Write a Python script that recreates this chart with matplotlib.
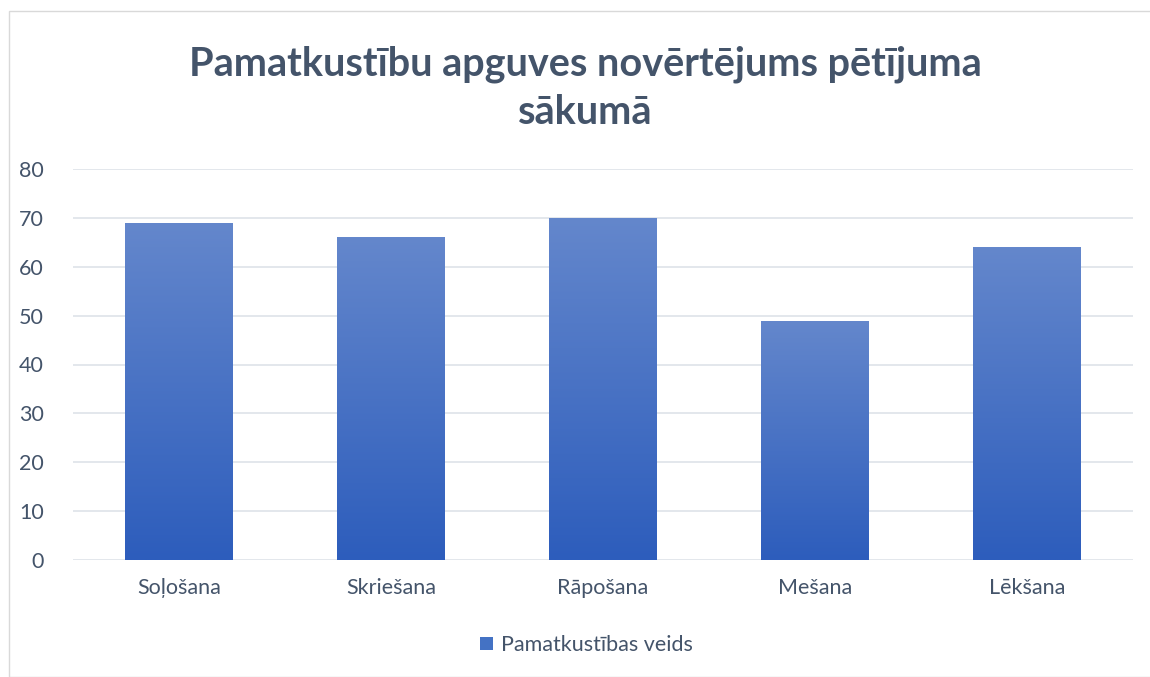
import numpy as np
import matplotlib.pyplot as plt
from matplotlib.colors import LinearSegmentedColormap
from matplotlib.patches import Rectangle

categories = ['Soļošana', 'Skriešana', 'Rāpošana', 'Mešana', 'Lēkšana']
values = [69, 66, 70, 49, 64]
series_name = 'Pamatkustības veids'
title = 'Pamatkustību apguves novērtējums pētījuma\nsākumā'

plt.rcParams['font.family'] = ['Lato', 'DejaVu Sans']
text_col = '#44546A'
grid_col = '#E1E5EB'
top_col = '#6487CC'
bot_col = '#2D5DBC'
cmap = LinearSegmentedColormap.from_list('bar', [bot_col, top_col])

fig = plt.figure(figsize=(11.5, 6.77), dpi=100)
# chart border
fig.patches.append(Rectangle((9 / 1150, 0), 1.0, 1 - 11 / 677, transform=fig.transFigure,
                             fill=False, edgecolor='#D9D9D9', linewidth=1))

ax = fig.add_axes([73 / 1150, 1 - 560 / 677, 1060 / 1150, 391 / 677])
x = np.arange(len(categories))
bars = ax.bar(x, values, width=0.505, color='none', zorder=3)
grad = np.linspace(0, 1, 256).reshape(-1, 1)
for b in bars:
    x0, w, h = b.get_x(), b.get_width(), b.get_height()
    im = ax.imshow(grad, cmap=cmap, origin='lower', aspect='auto',
                   extent=[x0, x0 + w, 0, h], zorder=3)
    im.set_clip_path(b)

ax.set_xlim(-0.5, len(categories) - 0.5)
ax.set_ylim(0, 80)
ax.set_yticks(range(0, 81, 10))
ax.set_xticks(x)
ax.set_xticklabels(categories)
ax.grid(axis='y', color=grid_col, linewidth=1.3, zorder=0)
ax.set_axisbelow(True)
for s in ax.spines.values():
    s.set_visible(False)
ax.tick_params(length=0, labelsize=15.5, colors=text_col)
ax.tick_params(axis='x', pad=13)
ax.tick_params(axis='y', pad=21)

fig.text(0.509, 1 - 88 / 677, title, ha='center', va='center', fontsize=28.5,
         fontweight='bold', color=text_col, linespacing=1.36)

handle = Rectangle((0, 0), 1, 1, facecolor='#4472C4')
fig.legend([handle], [series_name], loc='center', bbox_to_anchor=(0.51, 1 - 645 / 677),
           frameon=False, fontsize=15.5, labelcolor=text_col, handlelength=0.6,
           handleheight=0.6, handletextpad=0.4)

fig.savefig('out.png', dpi=100)
